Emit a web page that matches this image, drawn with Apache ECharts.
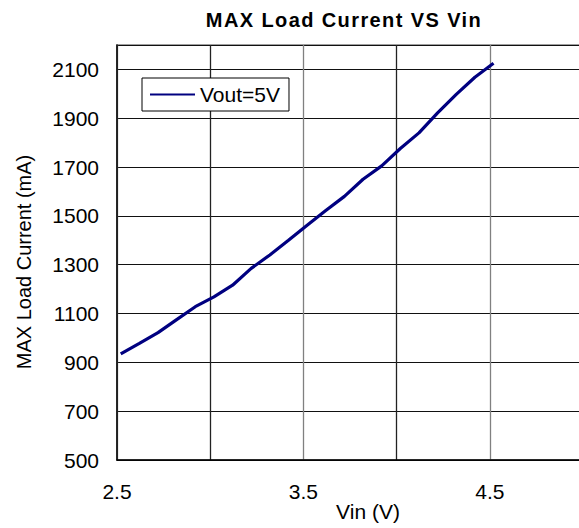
<!DOCTYPE html>
<html>
<head>
<meta charset="utf-8">
<script src="https://cdn.jsdelivr.net/npm/echarts@6/dist/echarts.min.js"></script>
<style>
html,body{margin:0;padding:0;background:#fff;}
#chart{width:579px;height:528px;}
</style>
</head>
<body>
<div id="chart"></div>
<script>
const titleText = 'MAX Load Current VS Vin';
const xName = 'Vin (V)';
const yName = 'MAX Load Current (mA)';
const seriesName = 'Vout=5V';
const vin = [2.52, 2.62, 2.72, 2.82, 2.92, 3.02, 3.12, 3.22, 3.32, 3.42, 3.52, 3.62, 3.72, 3.82, 3.92, 4.02, 4.12, 4.22, 4.32, 4.42, 4.52];
const current = [935, 978, 1022, 1075, 1128, 1168, 1216, 1285, 1340, 1400, 1462, 1522, 1580, 1650, 1705, 1776, 1840, 1922, 1998, 2068, 2125];
const xTickLabels = ['2.5', '3.5', '4.5'];
const yTickLabels = ['500', '700', '900', '1100', '1300', '1500', '1700', '1900', '2100'];

const FONT = 'Liberation Sans, Arial, sans-serif';
const chart = echarts.init(document.getElementById('chart'), null, {renderer: 'svg'});
chart.setOption({
  animation: false,
  backgroundColor: '#fff',
  textStyle: {fontFamily: FONT, color: '#000'},
  grid: {left: 117, top: 45, width: 466, height: 415, show: true, borderColor: '#808080', borderWidth: 1.5, containLabel: false, outerBoundsMode: 'none'},
  legend: {
    left: 142, top: 78,
    data: [seriesName],
    backgroundColor: '#fff', borderColor: '#000', borderWidth: 1,
    padding: [6, 9, 6, 7],
    itemWidth: 45, itemHeight: 14,
    itemStyle: {opacity: 0},
    textStyle: {fontSize: 21, fontFamily: FONT, color: '#000'}
  },
  xAxis: {
    type: 'value', min: 2.5, max: 5.0, interval: 0.5,
    axisLine: {lineStyle: {color: '#000', width: 1.5}},
    axisTick: {show: false},
    axisLabel: {
      fontSize: 21, color: '#000', margin: 21, fontFamily: FONT,
      formatter: v => { const s = v.toFixed(1); return xTickLabels.indexOf(s) >= 0 ? s : ''; }
    },
    splitLine: {show: true, lineStyle: {color: ['#808080', '#222'], width: 1.3}}
  },
  yAxis: {
    type: 'value', min: 500, max: 2200, interval: 200,
    axisLine: {show: true, lineStyle: {color: '#000', width: 1.5}},
    axisTick: {show: false},
    axisLabel: {
      fontSize: 21, color: '#000', margin: 18, fontFamily: FONT,
      formatter: v => { const s = String(v); return yTickLabels.indexOf(s) >= 0 ? s : ''; }
    },
    splitLine: {show: true, lineStyle: {color: '#111', width: 1}}
  },
  graphic: [
    {type: 'text', x: 344, y: 20, style: {text: titleText, fontSize: 20, fontWeight: 'bold', fontFamily: FONT, fill: '#000', align: 'center', verticalAlign: 'middle'}},
    {type: 'text', x: 368, y: 511, style: {text: xName, fontSize: 21, fontFamily: FONT, fill: '#000', align: 'center', verticalAlign: 'middle'}},
    {type: 'text', x: 24, y: 262, rotation: Math.PI / 2, style: {text: yName, fontSize: 20, fontFamily: FONT, fill: '#000', align: 'center', verticalAlign: 'middle'}}
  ],
  series: [{
    name: seriesName,
    type: 'line',
    data: vin.map((x, i) => [x, current[i]]),
    symbol: 'none',
    smooth: false,
    lineStyle: {color: '#000080', width: 3.2},
    itemStyle: {color: '#000080'}
  }]
});
document.querySelectorAll('#chart text').forEach(t => {
  if (t.textContent === titleText) t.style.letterSpacing = '1.4px';
});
</script>
</body>
</html>
